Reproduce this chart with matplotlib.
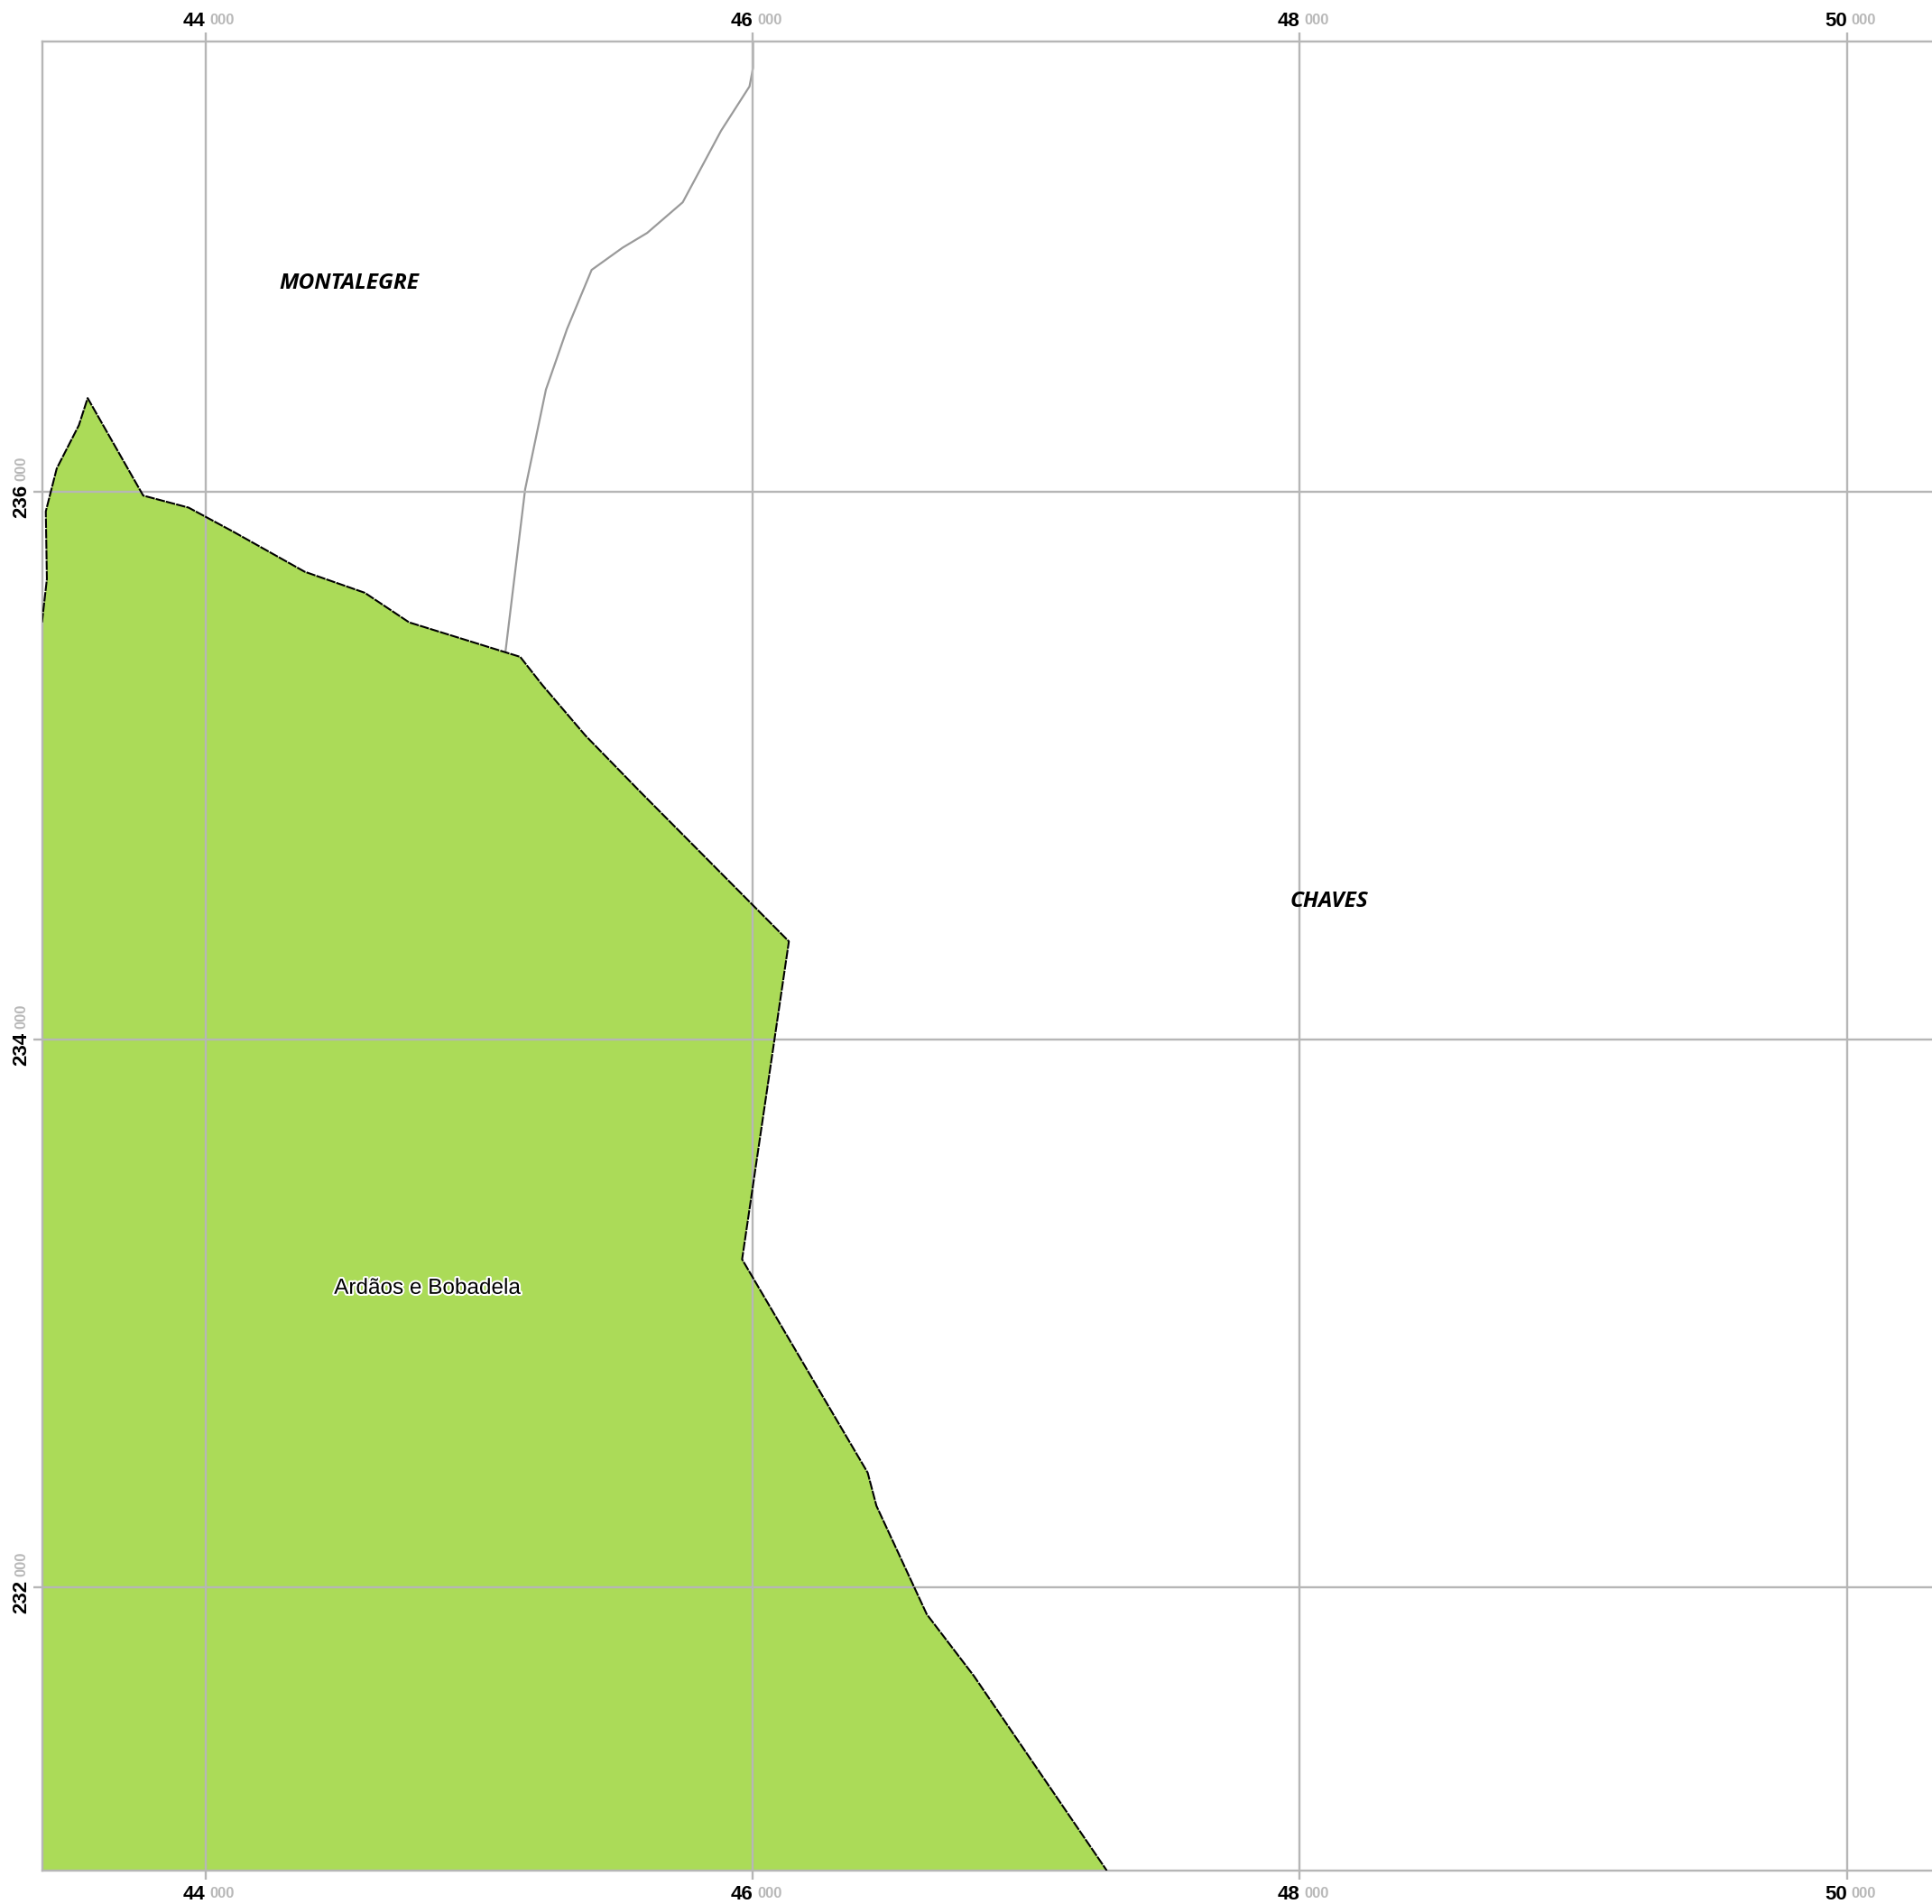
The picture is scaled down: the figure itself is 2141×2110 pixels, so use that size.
import matplotlib
matplotlib.use('Agg')
import matplotlib.pyplot as plt
import matplotlib.patheffects as pe

# parish outline, map metres
parish_x = [43403, 43421, 43417, 43457, 43538, 43570, 43773, 43939, 44106, 44363, 44583, 44745,
            45151, 45232, 45390, 45592, 46133, 45962, 46421, 46453, 46637, 46809, 47295, 43403]
parish_y = [235523, 235681, 235928, 236085, 236243, 236342, 235986, 235942, 235852, 235708, 235631, 235523,
            235397, 235294, 235109, 234902, 234358, 233197, 232418, 232297, 231901, 231676, 230965, 230965]
# municipal border going north
border_x = [45097, 45169, 45245, 45322, 45412, 45525, 45615, 45745, 45885, 45989, 46002, 46002]
border_y = [235415, 236009, 236373, 236594, 236810, 236891, 236945, 237057, 237318, 237480, 237548, 237644]

xticks = [44000, 46000, 48000, 50000]
yticks = [232000, 234000, 236000]
municipios = ['MONTALEGRE', 'CHAVES']
municipios_x = [44525, 48106]
municipios_y = [236762, 234504]
parish_name = 'Ardãos e Bobadela'
parish_name_x = 44810
parish_name_y = 233091

W, H = 2141, 2110
GRID = '#b6b6b6'
px = 0.72  # pixels to points at dpi 100

fig = plt.figure(figsize=(W / 100, H / 100), dpi=100)
left, top, bottom = 46.5, 46, 2073
ax = fig.add_axes([left / W, 1 - bottom / H, 1 - left / W, (bottom - top) / H])
ax.set_xlim(43403, 50311)
ax.set_ylim(230965, 237644)

ax.fill(parish_x, parish_y, facecolor='#abdb58', edgecolor='none', zorder=1)
ax.plot(border_x, border_y, color='#9a9a9a', lw=1.6, zorder=2)
ax.grid(True, color=GRID, lw=1.7, zorder=3)
ax.set_axisbelow(False)
ax.plot(parish_x[:-1], parish_y[:-1], color='black', lw=1.5, ls=(0, (5, 0.6)), zorder=4)

ax.set_xticks(xticks)
ax.set_yticks(yticks)
ax.tick_params(length=10 * px, width=1.7, color=GRID, labelbottom=False, labelleft=False,
               top=True, bottom=True, left=True, right=False)
for side in ['top', 'bottom', 'left']:
    ax.spines[side].set_color(GRID)
    ax.spines[side].set_linewidth(1.7)
ax.spines['right'].set_visible(False)


def lab(txt, xy, off, size, col, weight, ha, va, rot=0):
    ax.annotate(txt, xy=xy, xycoords=('data', 'axes fraction') if rot == 0 else ('axes fraction', 'data'),
                xytext=(off[0] * px, off[1] * px), textcoords='offset points', fontsize=size, color=col,
                fontweight=weight, ha=ha, va=va, rotation=rot, family='Liberation Sans',
                annotation_clip=False, rotation_mode='anchor')


for x in xticks:
    a = str(x // 1000)
    # top row
    lab(a, (x, 1), (0, 17), 16, 'black', 'bold', 'right', 'baseline')
    lab('000', (x, 1), (5, 19), 12, '#b8b8b8', 'bold', 'left', 'baseline')
    # bottom row
    lab(a, (x, 0), (0, -32), 16, 'black', 'bold', 'right', 'baseline')
    lab('000', (x, 0), (5, -30), 12, '#b8b8b8', 'bold', 'left', 'baseline')

for y in yticks:
    a = str(y // 1000)
    lab(a, (0, y), (-17.5, 8), 16, 'black', 'bold', 'right', 'baseline', rot=90)
    lab('000', (0, y), (-18.5, 12), 12, '#b8b8b8', 'bold', 'left', 'baseline', rot=90)

for name, x, y in zip(municipios, municipios_x, municipios_y):
    ax.text(x, y, name, fontsize=17.6, fontweight='bold', fontstyle='italic', family='Open Sans',
            ha='center', va='center', color='black', zorder=6)

ax.text(parish_name_x, parish_name_y, parish_name, fontsize=17.5, family='Liberation Sans',
        ha='center', va='center', color='black', zorder=6,
        path_effects=[pe.withStroke(linewidth=3, foreground='white')])

fig.savefig('out.png', dpi=100)
